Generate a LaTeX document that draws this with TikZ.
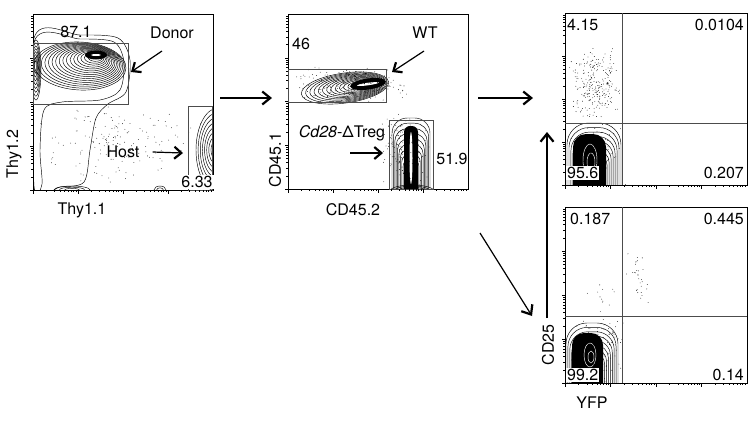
\documentclass[tikz,border=0pt]{standalone}
\usepackage{fontspec}
\setmainfont{TeX Gyre Heros}
\usetikzlibrary{arrows.meta}
\tikzset{>=latex}
\tikzset{
  frame/.style={line width=0.8pt},
  gate/.style={line width=0.6pt, draw=black!70},
  ring/.style={line width=0.45pt},
  lbl/.style={font=\fontsize{16}{18}\selectfont, inner sep=1pt},
  flow/.style={line width=1.2pt, -{Straight Barb[length=8pt,width=13pt,line width=2.2pt]}},
  point/.style={line width=1.2pt, -{Straight Barb[length=7pt,width=12pt,line width=2.2pt]}},
}
% nested contour rings: centre x, centre y, x radius, y radius, angle, rings, drift x, drift y
\newcommand{\blob}[8]{%
  \foreach \k in {1,...,#6}{
    \pgfmathsetmacro\s{1-0.9*(\k-1)/#6}
    \pgfmathsetmacro\cx{#1+#7*(1-\s)}
    \pgfmathsetmacro\cy{#2+#8*(1-\s)}
    \draw[ring, rotate around={#5:(\cx,\cy)}] (\cx,\cy) ellipse [x radius={#3*\s}, y radius={#4*\s}];
  }}
% nested arches standing on the lower axis: centre x, bottom, half width, height, rings
\newcommand{\tower}[5]{%
  \foreach \k in {1,...,#5}{
    \pgfmathsetmacro\s{1-0.88*(\k-1)/#5}
    \pgfmathsetmacro\r{0.8*#3*\s}
    \draw[ring, rounded corners=\r pt] ({#1-#3*\s},{#2+3}) -- ({#1-#3*\s},{#2-#4*\s}) -- ({#1+#3*\s},{#2-#4*\s}) -- ({#1+#3*\s},{#2+3});
  }}
% scattered events: left, top, width, height, count
\newcommand{\speckle}[5]{%
  \foreach \i in {1,...,#5}{
    \fill ({#1+#3*(rnd+rnd)/2},{#2+#4*(rnd+rnd)/2}) circle (0.4pt);
  }}
% log ticks: left, bottom, width, height
\newcommand{\logticks}[4]{%
  \foreach \d in {0,1,2,3}{
    \foreach \m in {1,...,9}{
      \pgfmathsetmacro\t{(\d+log10(\m))/4}
      \pgfmathsetmacro\ticklen{\m==1 ? 3.5 : 1.8}
      \draw[line width=0.4pt] ({#1+\t*#3},#2) -- ++(0,\ticklen);
      \draw[line width=0.4pt] (#1,{#2-\t*#4}) -- ++(-\ticklen,0);
    }}}
\begin{document}
\begin{tikzpicture}[x=1pt,y=-1pt]
  \useasboundingbox (0,0) rectangle (756,421);
  \pgfmathsetseed{7}
  % panel 1
  \begin{scope}
    \clip (33,14) rectangle (213,190);
    \draw[ring] plot[smooth cycle] coordinates {(34,38) (80,35) (118,38) (130,60) (126,92) (108,104) (96,118) (90,150) (84,182) (60,187) (34,188)};
    \draw[ring] plot[smooth cycle] coordinates {(34,42) (80,39) (114,42) (124,62) (120,90) (100,100) (62,102) (44,110) (40,150) (42,184) (34,186)};
    \blob{80}{66}{46}{24}{-3}{16}{18}{-10}
    \blob{36}{70}{5}{30}{0}{8}{-1}{-4}
    \fill (96,55) ellipse [x radius=11, y radius=4.5];
    \fill[white] (96,55) ellipse [x radius=5, y radius=1];
    \blob{72}{190}{18}{4}{0}{3}{0}{0}
    \blob{160}{190}{6}{4}{0}{2}{0}{0}
    \blob{218}{150}{22}{42}{0}{8}{-3}{0}
    \speckle{35}{100}{170}{88}{160}
  \end{scope}
  \draw[frame] (33,14) rectangle (213,190);
  \draw[gate] (33,43) rectangle (128,104);
  \draw[gate] (188,106) rectangle (212,190);
  \logticks{33}{190}{180}{176}
  \node[lbl] (don) at (76,32) {87.1};
  \node[lbl] (donlbl) at (172,33) {Donor};
  \node[lbl] (hostlbl) at (123,152) {Host};
  \node[lbl, fill=white] (host) at (197,182) {6.33};
  \node[lbl, rotate=90] (thy2) at (14,154) {Thy1.2};
  \node[lbl] (thy1) at (82,210) {Thy1.1};
  \coordinate (dontail) at (162,51);
  \coordinate (dontip) at (131,72);
  \coordinate (hosttip) at (183,153);
  \draw[point] (dontail) -- (dontip);
  \draw[point] (hostlbl.east) ++(12,0) -- (hosttip);
  % panel 2
  \begin{scope}
    \clip (288,14) rectangle (468,189);
    \blob{345}{88}{44}{15}{8}{14}{22}{-4}
    \fill[rotate around={8:(368,84)}] (368,84) ellipse [x radius=18, y radius=5.5];
    \fill[white, rotate around={8:(368,84)}] (368,84) ellipse [x radius=11, y radius=1.3];
    \tower{411}{189}{19}{71}{12}
    \fill[rounded corners=6pt] (404,192) -- (404,126) -- (418,126) -- (418,192);
    \fill[white] (411,158) ellipse [x radius=1.5, y radius=26];
    \blob{412}{191}{22}{6}{0}{5}{0}{0}
    \speckle{290}{66}{120}{38}{250}
    \speckle{380}{110}{50}{80}{150}
  \end{scope}
  \draw[frame] (288,14) rectangle (468,189);
  \draw[gate] (288,69) rectangle (386,102);
  \draw[gate] (389,120) rectangle (433,189);
  \logticks{288}{189}{180}{175}
  \node[lbl] (wt) at (301,44) {46};
  \node[lbl] (wtlbl) at (425,33) {WT};
  \node[lbl] (kolbl) at (342,133) {\textit{Cd28}-ΔTreg};
  \node[lbl] (ko) at (452,159) {51.9};
  \node[lbl, rotate=90] (cd451) at (275,160) {CD45.1};
  \node[lbl] (cd452) at (353,210) {CD45.2};
  \coordinate (wttail) at (424,51);
  \coordinate (wttip) at (392,72);
  \coordinate (kotail) at (350,153);
  \coordinate (kotip) at (383,153);
  \draw[point] (wttail) -- (wttip);
  \draw[point] (kotail) -- (kotip);
  % panel 3
  \begin{scope}
    \clip (565,13) rectangle (747,185);
    \tower{594}{185}{27}{62}{12}
    \fill[rounded corners=13pt] (573,190) -- (573,134) -- (606,134) -- (606,190);
    \draw[white, ring] (590,160) ellipse [x radius=7, y radius=16];
    \draw[white, ring] (591,162) ellipse [x radius=4, y radius=9];
    \speckle{567}{45}{55}{78}{260}
    \speckle{566}{120}{62}{65}{80}
  \end{scope}
  \draw[frame] (565,13) rectangle (747,185);
  \draw[gate] (622,13) -- (622,185);
  \draw[gate] (565,123) -- (747,123);
  \logticks{565}{185}{182}{172}
  \node[lbl, anchor=west] (q1) at (566,25) {4.15};
  \node[lbl, anchor=east] (q2) at (745,25) {0.0104};
  \node[lbl, anchor=west, fill=white] (q3) at (566,173) {95.6};
  \node[lbl, anchor=east] (q4) at (745,173) {0.207};
  % panel 4
  \begin{scope}
    \clip (565,207) rectangle (747,383);
    \tower{592}{383}{26}{60}{12}
    \fill[rounded corners=12pt] (572,388) -- (572,333) -- (603,333) -- (603,388);
    \draw[white, ring] (590,355) ellipse [x radius=6, y radius=12];
    \draw[white, ring] (591,357) ellipse [x radius=3, y radius=6];
    \speckle{625}{250}{25}{60}{30}
    \speckle{566}{310}{62}{73}{120}
    \speckle{580}{280}{40}{40}{12}
  \end{scope}
  \draw[frame] (565,207) rectangle (747,383);
  \draw[gate] (622,207) -- (622,383);
  \draw[gate] (565,316) -- (747,316);
  \logticks{565}{383}{182}{176}
  \node[lbl, anchor=west] (r1) at (569,219) {0.187};
  \node[lbl, anchor=east] (r2) at (745,219) {0.445};
  \node[lbl, anchor=west, fill=white] (r3) at (566,375) {99.2};
  \node[lbl, anchor=east] (r4) at (745,375) {0.14};
  \node[lbl, rotate=90] (cd25) at (548,345) {CD25};
  \node[lbl] (yfp) at (592,403) {YFP};
  % flow between panels
  \coordinate (p1out) at (220,98);
  \coordinate (p2in) at (272,98);
  \coordinate (p2out) at (478,98);
  \coordinate (p3in) at (533,98);
  \coordinate (p2low) at (480,233);
  \coordinate (p4in) at (532,316);
  \coordinate (p4up) at (547,318);
  \coordinate (p3up) at (547,132);
  \draw[flow] (p1out) -- (p2in);
  \draw[flow] (p2out) -- (p3in);
  \draw[flow] (p2low) -- (p4in);
  \draw[flow] (p4up) -- (p3up);
\end{tikzpicture}
\end{document}
